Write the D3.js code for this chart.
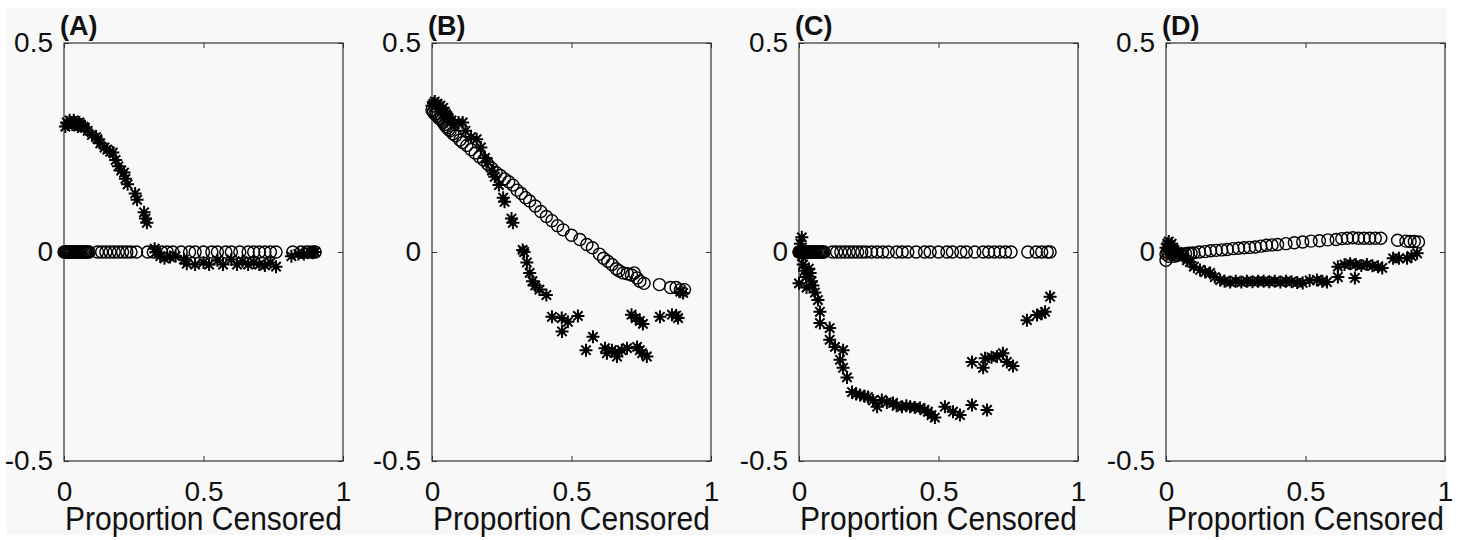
<!DOCTYPE html>
<html>
<head>
<meta charset="utf-8">
<script src="https://cdn.jsdelivr.net/npm/d3@7"></script>
<style>
  html, body { margin: 0; padding: 0; background: #fff; }
  svg { display: block; font-family: "Liberation Sans", Arial, Helvetica, sans-serif; }
  .tick text { fill: #111; }
</style>
</head>
<body>
<div id="chart"></div>
<script>
// Four panels of (proportion censored, value) scatter: open circles and asterisks.
const panelLabels = ["(A)", "(B)", "(C)", "(D)"];
const xTicks = [0, 0.5, 1];
const yTicks = [-0.5, 0, 0.5];
const xTitle = "Proportion Censored";

const circlesA = [[0,0],[0.004,0],[0.008,0],[0.012,0],[0.016,0],[0.02,0],[0.024,0],[0.028,0],[0.032,0],[0.036,0],[0.04,0],[0.044,0],[0.048,0],[0.052,0],[0.056,0],[0.06,0],[0.065,0],[0.07,0],[0.075,0],[0.08,0],[0.085,0],[0.09,0],[0.12,0],[0.135,0],[0.15,0],[0.165,0],[0.18,0],[0.195,0],[0.21,0],[0.225,0],[0.24,0],[0.26,0],[0.3,0],[0.32,0],[0.35,0],[0.37,0],[0.39,0],[0.42,0],[0.45,0],[0.47,0],[0.5,0],[0.53,0],[0.55,0],[0.58,0],[0.6,0],[0.63,0],[0.66,0],[0.68,0],[0.7,0],[0.72,0],[0.74,0],[0.76,0],[0.82,0],[0.85,0],[0.87,0],[0.89,0],[0.9,0]];
const starsA = [[0.005,0.3],[0.01,0.31],[0.015,0.305],[0.02,0.315],[0.025,0.31],[0.03,0.305],[0.035,0.315],[0.04,0.31],[0.045,0.305],[0.05,0.3],[0.055,0.31],[0.06,0.305],[0.07,0.3],[0.075,0.297],[0.085,0.29],[0.1,0.28],[0.115,0.275],[0.12,0.27],[0.13,0.26],[0.145,0.25],[0.155,0.245],[0.165,0.24],[0.175,0.238],[0.185,0.22],[0.195,0.205],[0.205,0.195],[0.215,0.19],[0.22,0.175],[0.228,0.162],[0.255,0.14],[0.262,0.125],[0.287,0.095],[0.292,0.08],[0.297,0.07],[0.325,0.008],[0.33,0],[0.345,-0.01],[0.36,-0.015],[0.38,-0.012],[0.4,-0.01],[0.43,-0.018],[0.44,-0.028],[0.47,-0.03],[0.5,-0.025],[0.52,-0.03],[0.55,-0.02],[0.57,-0.03],[0.6,-0.018],[0.62,-0.03],[0.64,-0.022],[0.66,-0.03],[0.68,-0.025],[0.7,-0.03],[0.72,-0.032],[0.74,-0.025],[0.76,-0.035],[0.815,-0.01],[0.84,-0.005],[0.86,-0.005],[0.88,0],[0.89,-0.002],[0.9,0]];

const circlesB = [[0,0.34],[0.005,0.335],[0.01,0.33],[0.015,0.33],[0.02,0.325],[0.025,0.32],[0.03,0.318],[0.035,0.315],[0.04,0.31],[0.045,0.305],[0.05,0.3],[0.055,0.297],[0.06,0.293],[0.065,0.29],[0.075,0.283],[0.085,0.278],[0.1,0.268],[0.11,0.262],[0.125,0.255],[0.14,0.245],[0.155,0.237],[0.17,0.228],[0.185,0.22],[0.2,0.21],[0.215,0.2],[0.23,0.19],[0.245,0.183],[0.26,0.175],[0.275,0.168],[0.29,0.16],[0.305,0.148],[0.32,0.14],[0.335,0.13],[0.35,0.122],[0.37,0.11],[0.39,0.097],[0.41,0.085],[0.43,0.075],[0.45,0.063],[0.47,0.053],[0.5,0.04],[0.53,0.03],[0.555,0.018],[0.575,0.01],[0.6,-0.005],[0.615,-0.015],[0.63,-0.022],[0.645,-0.03],[0.66,-0.04],[0.67,-0.045],[0.685,-0.05],[0.7,-0.052],[0.715,-0.055],[0.725,-0.05],[0.735,-0.062],[0.745,-0.07],[0.76,-0.075],[0.815,-0.078],[0.855,-0.085],[0.875,-0.085],[0.89,-0.09],[0.905,-0.09]];
const starsB = [[0,0.35],[0.005,0.355],[0.01,0.36],[0.015,0.35],[0.02,0.355],[0.025,0.345],[0.03,0.35],[0.035,0.34],[0.04,0.345],[0.045,0.335],[0.05,0.33],[0.055,0.325],[0.06,0.32],[0.07,0.315],[0.08,0.305],[0.095,0.31],[0.11,0.31],[0.12,0.29],[0.14,0.275],[0.16,0.27],[0.175,0.25],[0.19,0.225],[0.2,0.215],[0.215,0.195],[0.225,0.18],[0.24,0.16],[0.255,0.13],[0.26,0.12],[0.285,0.08],[0.29,0.07],[0.325,0.005],[0.33,0],[0.34,-0.025],[0.35,-0.05],[0.36,-0.07],[0.37,-0.08],[0.385,-0.09],[0.41,-0.103],[0.43,-0.155],[0.465,-0.158],[0.487,-0.167],[0.466,-0.19],[0.523,-0.153],[0.552,-0.235],[0.577,-0.203],[0.62,-0.23],[0.627,-0.242],[0.645,-0.235],[0.656,-0.24],[0.663,-0.25],[0.68,-0.235],[0.699,-0.23],[0.735,-0.227],[0.745,-0.235],[0.753,-0.242],[0.77,-0.25],[0.715,-0.15],[0.73,-0.158],[0.745,-0.165],[0.756,-0.172],[0.817,-0.155],[0.86,-0.15],[0.875,-0.152],[0.882,-0.158],[0.89,-0.095],[0.9,-0.098]];

const circlesC = [[0,0],[0.004,0],[0.008,0],[0.012,0],[0.016,0],[0.02,0],[0.024,0],[0.028,0],[0.032,0],[0.036,0],[0.04,0],[0.044,0],[0.048,0],[0.052,0],[0.056,0],[0.06,0],[0.065,0],[0.07,0],[0.075,0],[0.08,0],[0.085,0],[0.09,0],[0.12,0],[0.135,0],[0.15,0],[0.165,0],[0.18,0],[0.195,0],[0.21,0],[0.225,0],[0.24,0],[0.26,0],[0.28,0],[0.3,0],[0.32,0],[0.35,0],[0.37,0],[0.39,0],[0.42,0],[0.45,0],[0.47,0],[0.5,0],[0.53,0],[0.55,0],[0.58,0],[0.6,0],[0.63,0],[0.66,0],[0.68,0],[0.7,0],[0.72,0],[0.74,0],[0.76,0],[0.82,0],[0.85,0],[0.87,0],[0.89,0],[0.9,0]];
const starsC = [[0,0],[0.005,0.02],[0.01,0.035],[0.01,-0.01],[0.015,-0.03],[0.02,-0.045],[0,-0.075],[0.025,-0.06],[0.027,-0.085],[0.035,-0.04],[0.04,-0.05],[0.045,-0.07],[0.05,-0.08],[0.057,-0.097],[0.068,-0.115],[0.075,-0.143],[0.075,-0.17],[0.11,-0.182],[0.11,-0.21],[0.129,-0.227],[0.158,-0.235],[0.147,-0.258],[0.158,-0.277],[0.172,-0.3],[0.19,-0.335],[0.205,-0.34],[0.219,-0.342],[0.235,-0.345],[0.247,-0.347],[0.265,-0.355],[0.28,-0.37],[0.297,-0.354],[0.315,-0.36],[0.337,-0.361],[0.35,-0.368],[0.369,-0.37],[0.385,-0.368],[0.398,-0.37],[0.415,-0.372],[0.434,-0.373],[0.45,-0.378],[0.462,-0.382],[0.475,-0.39],[0.487,-0.396],[0.523,-0.37],[0.552,-0.382],[0.577,-0.39],[0.62,-0.366],[0.674,-0.378],[0.62,-0.263],[0.66,-0.277],[0.667,-0.254],[0.69,-0.252],[0.71,-0.25],[0.731,-0.242],[0.745,-0.263],[0.767,-0.273],[0.817,-0.163],[0.853,-0.151],[0.87,-0.148],[0.882,-0.143],[0.9,-0.107]];

const circlesD = [[0,-0.02],[0,-0.005],[0.005,0],[0.01,-0.01],[0.01,0.01],[0.015,0.005],[0.02,-0.005],[0.025,0],[0.03,-0.01],[0.035,-0.005],[0.04,-0.008],[0.05,-0.005],[0.06,-0.005],[0.07,-0.004],[0.08,-0.003],[0.09,-0.003],[0.1,-0.002],[0.12,0],[0.14,0.001],[0.16,0.003],[0.18,0.004],[0.2,0.005],[0.22,0.006],[0.24,0.008],[0.26,0.009],[0.28,0.01],[0.3,0.011],[0.32,0.012],[0.34,0.014],[0.36,0.016],[0.38,0.017],[0.4,0.018],[0.43,0.02],[0.46,0.022],[0.49,0.024],[0.52,0.026],[0.55,0.027],[0.58,0.029],[0.61,0.03],[0.63,0.032],[0.65,0.033],[0.67,0.034],[0.69,0.033],[0.71,0.033],[0.73,0.033],[0.75,0.033],[0.77,0.033],[0.83,0.028],[0.86,0.026],[0.875,0.025],[0.89,0.025],[0.905,0.024]];
const starsD = [[0,0.01],[0.005,0.02],[0.01,0.025],[0.015,0.015],[0.02,0.02],[0.02,0],[0.025,0.01],[0.03,0.005],[0.04,0],[0.05,-0.005],[0.06,-0.01],[0.075,-0.02],[0.086,-0.024],[0.1,-0.035],[0.122,-0.043],[0.14,-0.048],[0.158,-0.05],[0.175,-0.06],[0.194,-0.067],[0.21,-0.07],[0.23,-0.072],[0.25,-0.07],[0.27,-0.072],[0.29,-0.07],[0.31,-0.071],[0.33,-0.07],[0.35,-0.07],[0.37,-0.071],[0.39,-0.07],[0.41,-0.072],[0.43,-0.07],[0.45,-0.071],[0.47,-0.073],[0.49,-0.074],[0.515,-0.068],[0.541,-0.067],[0.56,-0.07],[0.577,-0.072],[0.616,-0.06],[0.677,-0.062],[0.616,-0.035],[0.64,-0.03],[0.66,-0.028],[0.68,-0.03],[0.7,-0.032],[0.72,-0.03],[0.74,-0.033],[0.76,-0.035],[0.775,-0.038],[0.814,-0.015],[0.835,-0.015],[0.864,-0.015],[0.88,-0.01],[0.9,-0.003]];

const circleSets = [circlesA, circlesB, circlesC, circlesD];
const starSets = [starsA, starsB, starsC, starsD];

const W = 1459, H = 540;
const panelLeft = [64, 432, 799, 1166];
const pW = 279, pTop = 43, pH = 418;
const BG = "#f8f8f8";

const svg = d3.select("#chart").append("svg").attr("width", W).attr("height", H);
svg.append("rect").attr("width", W).attr("height", H).attr("fill", "#fff");
svg.append("rect").attr("x", 7).attr("y", 8).attr("width", 1440).attr("height", 527).attr("fill", BG);

const x = d3.scaleLinear([0, 1], [0, pW]);
const y = d3.scaleLinear([-0.5, 0.5], [pH, 0]);

// MATLAB-style '*' marker: a plus and a cross overlaid
const starPath = (s) => {
  const d = s * 0.72;
  return `M${-s},0L${s},0M0,${-s}L0,${s}M${-d},${-d}L${d},${d}M${-d},${d}L${d},${-d}`;
};

panelLabels.forEach((lab, i) => {
  const g = svg.append("g").attr("transform", `translate(${panelLeft[i]},${pTop})`);

  const fmt = (d) => String(d);
  const bottom = g.append("g").attr("transform", `translate(0,${pH})`)
    .call(d3.axisBottom(x).tickValues(xTicks).tickFormat(fmt).tickSizeInner(-5).tickSizeOuter(0).tickPadding(20));
  const top = g.append("g")
    .call(d3.axisTop(x).tickValues(xTicks).tickFormat("").tickSizeInner(-5).tickSizeOuter(0));
  const left = g.append("g")
    .call(d3.axisLeft(y).tickValues(yTicks).tickFormat(fmt).tickSizeInner(-5).tickSizeOuter(0).tickPadding(11));
  const right = g.append("g").attr("transform", `translate(${pW},0)`)
    .call(d3.axisRight(y).tickValues(yTicks).tickFormat("").tickSizeInner(-5).tickSizeOuter(0));
  [bottom, top, left, right].forEach((a) => {
    a.select(".domain").remove();
    a.selectAll("line").attr("stroke", "#333");
    a.selectAll("text").attr("font-size", 28).attr("font-family", null);
  });

  g.append("rect").attr("width", pW).attr("height", pH)
    .attr("fill", "none").attr("stroke", "#333").attr("stroke-width", 1.2);

  g.append("g").selectAll("circle").data(circleSets[i]).join("circle")
    .attr("cx", (d) => x(d[0])).attr("cy", (d) => y(d[1])).attr("r", 6)
    .attr("fill", "none").attr("stroke", "#000").attr("stroke-width", 1.4);

  g.append("g").selectAll("path").data(starSets[i]).join("path")
    .attr("transform", (d) => `translate(${x(d[0])},${y(d[1])})`)
    .attr("d", starPath(6.5)).attr("fill", "none").attr("stroke", "#000").attr("stroke-width", 2);

  g.append("text").attr("x", -4).attr("y", -8)
    .attr("font-size", 27).attr("font-weight", "bold").attr("fill", "#111").text(lab);

  // x label, slightly taller glyphs as in the reference
  g.append("text").attr("transform", `translate(${pW / 2},${pH + 69}) scale(1,1.12)`)
    .attr("text-anchor", "middle").attr("font-size", 30).attr("fill", "#111").text(xTitle);
});
</script>
</body>
</html>
